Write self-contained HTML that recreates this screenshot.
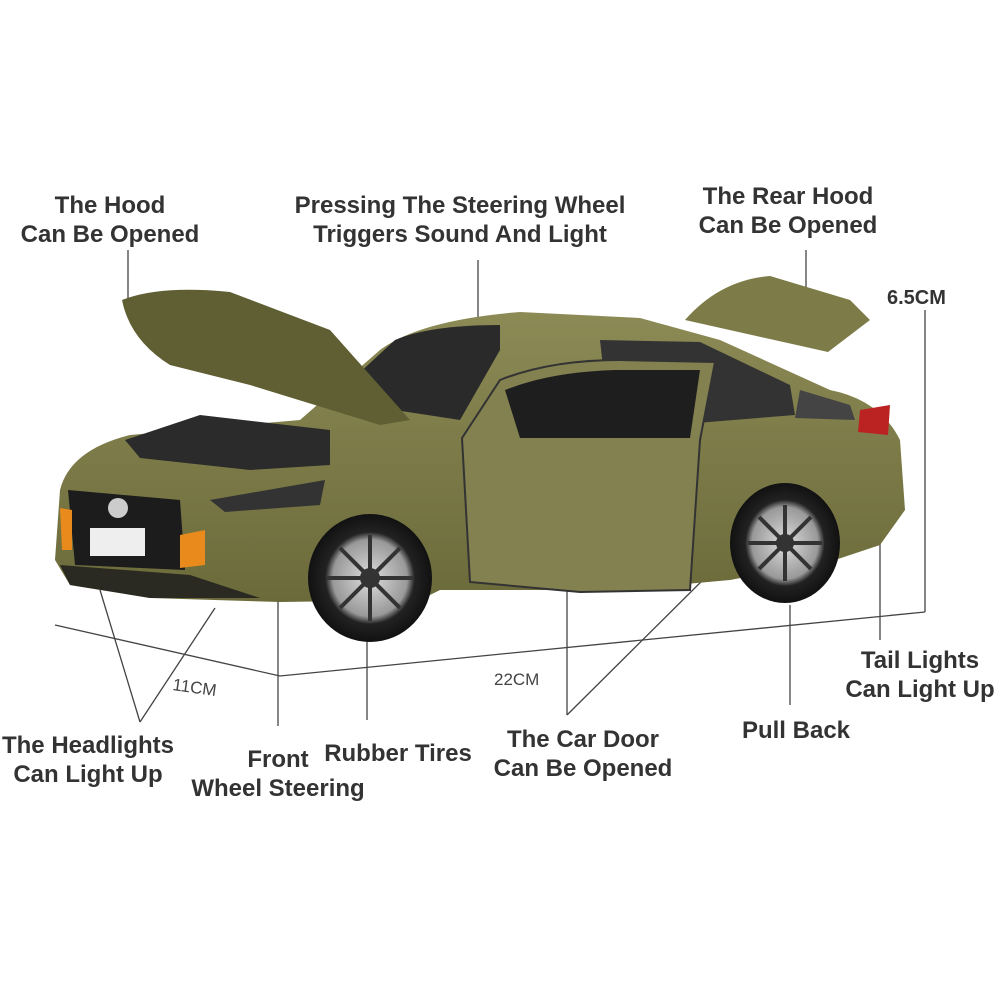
<!DOCTYPE html>
<html><head><meta charset="utf-8"><style>
html,body{margin:0;padding:0;background:#fff;}
.wrap{position:relative;width:1000px;height:1000px;overflow:hidden;background:#fff;}
svg{position:absolute;left:0;top:0;}
.l{position:absolute;font-family:"Liberation Sans",sans-serif;font-weight:bold;font-size:24px;color:#333;text-align:center;line-height:29px;white-space:nowrap;}
</style></head><body><div class="wrap">
<svg width="1000" height="1000" viewBox="0 0 1000 1000">
<defs>
<linearGradient id="g" x1="0" y1="0" x2="0" y2="1"><stop offset="0" stop-color="#8c8a55"/><stop offset="1" stop-color="#6b6a3a"/></linearGradient>
<radialGradient id="w"><stop offset="0" stop-color="#ddd"/><stop offset="0.6" stop-color="#999"/><stop offset="0.72" stop-color="#222"/><stop offset="1" stop-color="#111"/></radialGradient>
</defs>
<g stroke="#444" stroke-width="1.3" fill="none">
<polyline points="55,625 280,676 925,612"/>
<line x1="925" y1="310" x2="925" y2="612"/>
<line x1="128" y1="250" x2="128" y2="312"/>
<line x1="478" y1="260" x2="478" y2="432"/>
<line x1="806" y1="250" x2="806" y2="325"/>
<line x1="278" y1="600" x2="278" y2="726"/>
<line x1="367" y1="640" x2="367" y2="720"/>
<line x1="567" y1="715" x2="567" y2="590"/>
<line x1="567" y1="715" x2="718" y2="565"/>
<line x1="790" y1="605" x2="790" y2="705"/>
<line x1="880" y1="440" x2="880" y2="640"/>
<line x1="140" y1="722" x2="100" y2="590"/>
<line x1="140" y1="722" x2="215" y2="608"/>
</g>
<path d="M60,490 Q70,450 130,435 L300,420 L380,350 Q420,320 520,312 L640,318 L720,340 L830,390 Q880,400 900,440 L905,510 L880,545 L835,560 L730,580 L620,590 L440,590 L420,600 L280,602 L150,598 L70,585 L55,560 Z" fill="url(#g)"/>
<path d="M330,400 L395,340 Q430,325 500,325 L500,350 L460,420 Z" fill="#2a2a2a"/>
<path d="M600,340 L700,342 L790,385 L795,415 L610,430 Z" fill="#333"/>
<path d="M800,390 L850,405 L855,420 L795,418 Z" fill="#444"/>
<path d="M462,438 L500,380 Q550,360 620,360 L715,362 L700,440 L690,590 L580,592 L470,582 Z" fill="#838150" stroke="#333" stroke-width="2"/>
<path d="M505,390 Q550,372 615,370 L700,370 L690,438 L520,438 Z" fill="#1e1e1e"/>
<path d="M122,300 Q160,285 230,292 L330,330 L410,420 L380,425 L250,385 L170,365 Q130,340 122,300 Z" fill="#5f5f33"/>
<path d="M125,440 L200,415 L330,430 L330,465 L250,470 L140,458 Z" fill="#2b2b2b"/>
<path d="M685,320 Q720,280 770,276 L850,300 L870,320 L828,352 Z" fill="#7d7b48"/>
<path d="M68,490 L180,500 L185,570 L75,565 Z" fill="#1c1c1c"/>
<path d="M60,565 L190,575 L260,598 L150,598 L70,585 Z" fill="#2a2a22"/>
<rect x="90" y="528" width="55" height="28" fill="#eee"/>
<circle cx="118" cy="508" r="10" fill="#ccc"/>
<path d="M60,508 L72,510 L72,550 L62,550 Z" fill="#e88a1c"/>
<path d="M180,535 L205,530 L205,565 L180,568 Z" fill="#e88a1c"/>
<path d="M210,500 L325,480 L320,505 L225,512 Z" fill="#333"/>
<path d="M860,410 L890,405 L888,435 L858,432 Z" fill="#b22"/>
<ellipse cx="370" cy="578" rx="62" ry="64" fill="url(#w)"/>
<g stroke="#333" stroke-width="4"><line x1="370" y1="535" x2="370" y2="621"/><line x1="327" y1="578" x2="413" y2="578"/><line x1="340" y1="548" x2="400" y2="608"/><line x1="400" y1="548" x2="340" y2="608"/></g>
<circle cx="370" cy="578" r="10" fill="#333"/>
<ellipse cx="785" cy="543" rx="55" ry="60" fill="url(#w)"/>
<g stroke="#333" stroke-width="4"><line x1="785" y1="505" x2="785" y2="581"/><line x1="748" y1="543" x2="822" y2="543"/><line x1="759" y1="517" x2="811" y2="569"/><line x1="811" y1="517" x2="759" y2="569"/></g>
<circle cx="785" cy="543" r="9" fill="#333"/>
<text x="887" y="304" font-family="Liberation Sans,sans-serif" font-size="20" font-weight="bold" fill="#333">6.5CM</text>
<text x="172" y="690" font-family="Liberation Sans,sans-serif" font-size="17" fill="#444" transform="rotate(8 172 690)">11CM</text>
<text x="494" y="685" font-family="Liberation Sans,sans-serif" font-size="17" fill="#444">22CM</text>
</svg>
<div class="l" style="left:0px;top:191px;width:220px">The Hood<br>Can Be Opened</div>
<div class="l" style="left:260px;top:191px;width:400px">Pressing The Steering Wheel<br>Triggers Sound And Light</div>
<div class="l" style="left:680px;top:182px;width:216px">The Rear Hood<br>Can Be Opened</div>
<div class="l" style="left:830px;top:646px;width:180px">Tail Lights<br>Can Light Up</div>
<div class="l" style="left:-10px;top:731px;width:196px">The Headlights<br>Can Light Up</div>
<div class="l" style="left:177px;top:745px;width:202px">Front<br>Wheel Steering</div>
<div class="l" style="left:313px;top:739px;width:170px">Rubber Tires</div>
<div class="l" style="left:480px;top:725px;width:206px">The Car Door<br>Can Be Opened</div>
<div class="l" style="left:731px;top:716px;width:130px">Pull Back</div>
</div></body></html>
